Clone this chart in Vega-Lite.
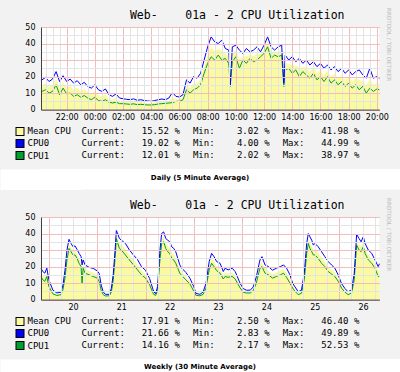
{
  "$schema": "https://vega.github.io/schema/vega-lite/v6.json",
  "background": "#F2F2F2",
  "padding": {"left": 0, "top": 0, "right": 0, "bottom": 0},
  "spacing": 0,
  "config": {"view": {"stroke": null}, "font": "DejaVu Sans"},
  "datasets": {
    "d": [
      {"t":20.18,"a":18.5,"b":11.5,"m":15},
      {"t":20.25,"a":18,"b":11,"m":14.5},
      {"t":20.5,"a":19.5,"b":12,"m":15.75},
      {"t":20.75,"a":17,"b":10,"m":13.5},
      {"t":21,"a":18.5,"b":11,"m":14.75},
      {"t":21.25,"a":23,"b":15,"m":19},
      {"t":21.5,"a":17,"b":9,"m":13},
      {"t":21.75,"a":20.5,"b":13,"m":16.75},
      {"t":22,"a":17,"b":9.5,"m":13.25},
      {"t":22.25,"a":18.5,"b":10,"m":14.25},
      {"t":22.5,"a":16,"b":8,"m":12},
      {"t":22.75,"a":17.5,"b":9,"m":13.25},
      {"t":23,"a":15,"b":7.5,"m":11.25},
      {"t":23.25,"a":16.5,"b":8.5,"m":12.5},
      {"t":23.5,"a":14,"b":7,"m":10.5},
      {"t":23.75,"a":13,"b":6,"m":9.5},
      {"t":24,"a":15,"b":7.5,"m":11.25},
      {"t":24.25,"a":12,"b":5.5,"m":8.75},
      {"t":24.5,"a":11,"b":5,"m":8},
      {"t":24.75,"a":12.5,"b":6,"m":9.25},
      {"t":25,"a":9,"b":4.5,"m":6.75},
      {"t":25.25,"a":8,"b":4,"m":6},
      {"t":25.5,"a":9.5,"b":4.5,"m":7},
      {"t":25.75,"a":7,"b":3.6,"m":5.3},
      {"t":26,"a":6.6,"b":3.6,"m":5.1},
      {"t":26.25,"a":6.2,"b":3.4,"m":4.8},
      {"t":26.5,"a":6,"b":3.2,"m":4.6},
      {"t":26.75,"a":6.5,"b":3.5,"m":5},
      {"t":27,"a":5.6,"b":3,"m":4.3},
      {"t":27.25,"a":6,"b":3.2,"m":4.6},
      {"t":27.5,"a":5.5,"b":3,"m":4.25},
      {"t":27.75,"a":5.2,"b":2.8,"m":4},
      {"t":28,"a":5,"b":2.8,"m":3.9},
      {"t":28.25,"a":5.5,"b":3,"m":4.25},
      {"t":28.5,"a":6,"b":3.4,"m":4.7},
      {"t":28.75,"a":6.4,"b":3.6,"m":5},
      {"t":29,"a":6,"b":3.8,"m":4.9},
      {"t":29.25,"a":7,"b":4,"m":5.5},
      {"t":29.5,"a":10.4,"b":4.2,"m":7.3},
      {"t":29.75,"a":8,"b":5,"m":6.5},
      {"t":30,"a":7.6,"b":5,"m":6.3},
      {"t":30.25,"a":9,"b":6,"m":7.5},
      {"t":30.5,"a":18,"b":12,"m":15},
      {"t":30.75,"a":16,"b":10,"m":13},
      {"t":31,"a":20,"b":12,"m":16},
      {"t":31.25,"a":19,"b":13,"m":16},
      {"t":31.5,"a":22,"b":15,"m":18.5},
      {"t":31.75,"a":30,"b":22,"m":26},
      {"t":32,"a":38,"b":28,"m":33},
      {"t":32.25,"a":44,"b":32,"m":38},
      {"t":32.5,"a":41,"b":30,"m":35.5},
      {"t":32.75,"a":40,"b":33,"m":36.5},
      {"t":33,"a":42,"b":30,"m":36},
      {"t":33.25,"a":37,"b":31,"m":34},
      {"t":33.5,"a":36,"b":28,"m":32},
      {"t":33.6,"a":15,"b":14,"m":14.5},
      {"t":33.75,"a":38,"b":29,"m":33.5},
      {"t":34,"a":39,"b":32,"m":35.5},
      {"t":34.25,"a":36,"b":25,"m":30.5},
      {"t":34.5,"a":34,"b":30,"m":32},
      {"t":34.75,"a":37,"b":28,"m":32.5},
      {"t":35,"a":35,"b":31,"m":33},
      {"t":35.25,"a":36,"b":29,"m":32.5},
      {"t":35.5,"a":38,"b":30,"m":34},
      {"t":35.75,"a":35,"b":32,"m":33.5},
      {"t":36,"a":39,"b":34,"m":36.5},
      {"t":36.25,"a":44,"b":38,"m":41},
      {"t":36.5,"a":38,"b":31,"m":34.5},
      {"t":36.75,"a":36,"b":33,"m":34.5},
      {"t":37,"a":38,"b":32,"m":35},
      {"t":37.25,"a":39,"b":33,"m":36},
      {"t":37.4,"a":16,"b":14,"m":15},
      {"t":37.5,"a":33,"b":24,"m":28.5},
      {"t":37.75,"a":30,"b":25,"m":27.5},
      {"t":38,"a":32,"b":22,"m":27},
      {"t":38.25,"a":29,"b":24,"m":26.5},
      {"t":38.5,"a":31,"b":20,"m":25.5},
      {"t":38.75,"a":28,"b":23,"m":25.5},
      {"t":39,"a":30,"b":21,"m":25.5},
      {"t":39.25,"a":27,"b":19,"m":23},
      {"t":39.5,"a":29,"b":22,"m":25.5},
      {"t":39.75,"a":26,"b":18,"m":22},
      {"t":40,"a":28,"b":20,"m":24},
      {"t":40.25,"a":25,"b":17,"m":21},
      {"t":40.5,"a":27,"b":20,"m":23.5},
      {"t":40.75,"a":24,"b":16,"m":20},
      {"t":41,"a":26,"b":18,"m":22},
      {"t":41.25,"a":23,"b":15,"m":19},
      {"t":41.5,"a":25,"b":17,"m":21},
      {"t":41.75,"a":22,"b":14,"m":18},
      {"t":42,"a":24,"b":16,"m":20},
      {"t":42.25,"a":21,"b":13,"m":17},
      {"t":42.5,"a":23,"b":15,"m":19},
      {"t":42.75,"a":24,"b":12,"m":18},
      {"t":43,"a":21,"b":14,"m":17.5},
      {"t":43.25,"a":19,"b":10,"m":14.5},
      {"t":43.5,"a":25,"b":13,"m":19},
      {"t":43.75,"a":19,"b":11,"m":15},
      {"t":44,"a":20,"b":12.5,"m":16.25},
      {"t":44.18,"a":19,"b":12,"m":15.5}
    ],
    "w": [
      {"h":20.1,"a":18.9,"b":13.8,"m":16.3},
      {"h":21,"a":17,"b":12,"m":14.5},
      {"h":22,"a":16,"b":11,"m":13.5},
      {"h":23,"a":19,"b":14,"m":16.5},
      {"h":24,"a":12,"b":8,"m":10},
      {"h":26,"a":5.7,"b":3.5,"m":4.6},
      {"h":28,"a":4,"b":2.5,"m":3.2},
      {"h":30,"a":4.5,"b":3,"m":3.7},
      {"h":31,"a":8.7,"b":6,"m":7.3},
      {"h":32,"a":17.8,"b":13,"m":15.4},
      {"h":33,"a":30,"b":24,"m":27},
      {"h":34,"a":36.5,"b":31,"m":33.7},
      {"h":35,"a":34,"b":29,"m":31.5},
      {"h":36,"a":32,"b":27,"m":29.5},
      {"h":37,"a":32.5,"b":27,"m":29.7},
      {"h":38,"a":30.4,"b":25,"m":27.7},
      {"h":39,"a":28,"b":22,"m":25},
      {"h":40,"a":26,"b":20,"m":23},
      {"h":40.5,"a":21,"b":9.7,"m":15.3},
      {"h":41,"a":24,"b":19,"m":21.5},
      {"h":42,"a":21,"b":16,"m":18.5},
      {"h":44,"a":19.5,"b":15,"m":17.2},
      {"h":46,"a":18.9,"b":14,"m":16.4},
      {"h":48,"a":17.4,"b":13,"m":15.2},
      {"h":49,"a":15.8,"b":11,"m":13.4},
      {"h":50,"a":8.7,"b":5.5,"m":7.1},
      {"h":51,"a":4.7,"b":3,"m":3.8},
      {"h":52,"a":3.2,"b":2.2,"m":2.7},
      {"h":54,"a":3.2,"b":2.3,"m":2.7},
      {"h":55,"a":6.7,"b":4.5,"m":5.6},
      {"h":56,"a":15.8,"b":12,"m":13.9},
      {"h":57,"a":32,"b":27,"m":29.5},
      {"h":57.5,"a":41.8,"b":37,"m":39.4},
      {"h":58,"a":40.6,"b":35,"m":37.8},
      {"h":59,"a":37,"b":31,"m":34},
      {"h":60,"a":36,"b":30,"m":33},
      {"h":62,"a":34,"b":27,"m":30.5},
      {"h":64,"a":30,"b":24,"m":27},
      {"h":66,"a":27,"b":21,"m":24},
      {"h":68,"a":24.3,"b":18,"m":21.1},
      {"h":70,"a":19.9,"b":15,"m":17.4},
      {"h":72,"a":17.8,"b":13,"m":15.4},
      {"h":74,"a":12.8,"b":9,"m":10.9},
      {"h":76,"a":5,"b":3.2,"m":4.1},
      {"h":77,"a":3.5,"b":2.5,"m":3},
      {"h":78,"a":8,"b":5.5,"m":6.7},
      {"h":79,"a":28,"b":22,"m":25},
      {"h":80,"a":40,"b":34,"m":37},
      {"h":81,"a":41,"b":35,"m":38},
      {"h":82,"a":37,"b":31,"m":34},
      {"h":83,"a":36,"b":29,"m":32.5},
      {"h":84,"a":35,"b":28,"m":31.5},
      {"h":85,"a":32,"b":25,"m":28.5},
      {"h":86,"a":31,"b":24,"m":27.5},
      {"h":87,"a":29,"b":22,"m":25.5},
      {"h":88,"a":25,"b":19,"m":22},
      {"h":89,"a":21,"b":16,"m":18.5},
      {"h":90,"a":19,"b":14.5,"m":16.7},
      {"h":92,"a":16.5,"b":12,"m":14.2},
      {"h":94,"a":13,"b":9.5,"m":11.2},
      {"h":96,"a":7.7,"b":5,"m":6.3},
      {"h":97,"a":3.8,"b":2.6,"m":3.2},
      {"h":99,"a":3.2,"b":2.3,"m":2.7},
      {"h":100.6,"a":4.7,"b":3.2,"m":4},
      {"h":102,"a":9.7,"b":7,"m":8.3},
      {"h":103.6,"a":23,"b":18,"m":20.5},
      {"h":104.8,"a":28,"b":22,"m":25},
      {"h":106,"a":26,"b":20,"m":23},
      {"h":107.3,"a":23,"b":17.5,"m":20.2},
      {"h":109,"a":22,"b":16,"m":19},
      {"h":110.6,"a":17,"b":12.5,"m":14.7},
      {"h":111.5,"a":19,"b":14,"m":16.5},
      {"h":113,"a":18,"b":13.5,"m":15.7},
      {"h":115,"a":19,"b":14,"m":16.5},
      {"h":116.5,"a":17,"b":12.5,"m":14.7},
      {"h":117.6,"a":13.8,"b":10,"m":11.9},
      {"h":119,"a":9.7,"b":7,"m":8.3},
      {"h":120.5,"a":6.7,"b":4.5,"m":5.6},
      {"h":122,"a":5.7,"b":4,"m":4.8},
      {"h":124,"a":5.7,"b":4,"m":4.8},
      {"h":125.5,"a":7.7,"b":5.5,"m":6.6},
      {"h":127,"a":13.8,"b":10,"m":11.9},
      {"h":128.8,"a":24,"b":19,"m":21.5},
      {"h":129.8,"a":26,"b":20,"m":23},
      {"h":131.3,"a":21,"b":16,"m":18.5},
      {"h":133,"a":20,"b":15,"m":17.5},
      {"h":135,"a":17.8,"b":13,"m":15.4},
      {"h":137,"a":19,"b":14,"m":16.5},
      {"h":139,"a":20,"b":15,"m":17.5},
      {"h":140.5,"a":21,"b":16,"m":18.5},
      {"h":142,"a":19,"b":13.5,"m":16.2},
      {"h":143.7,"a":15,"b":10,"m":12.5},
      {"h":145,"a":10,"b":7,"m":8.5},
      {"h":146.2,"a":7.7,"b":5,"m":6.3},
      {"h":147.8,"a":4.7,"b":3,"m":3.8},
      {"h":149.4,"a":5.7,"b":3.8,"m":4.7},
      {"h":150.8,"a":15.8,"b":12,"m":13.9},
      {"h":152,"a":34,"b":28,"m":31},
      {"h":152.8,"a":40,"b":34,"m":37},
      {"h":153.6,"a":38,"b":31,"m":34.5},
      {"h":154.5,"a":36,"b":29,"m":32.5},
      {"h":155.3,"a":33,"b":27,"m":30},
      {"h":156.1,"a":34,"b":27,"m":30.5},
      {"h":157.7,"a":32,"b":25,"m":28.5},
      {"h":159.4,"a":29,"b":22,"m":25.5},
      {"h":161,"a":26,"b":20,"m":23},
      {"h":162.7,"a":23,"b":17,"m":20},
      {"h":164.3,"a":21,"b":15.5,"m":18.2},
      {"h":166,"a":19,"b":14,"m":16.5},
      {"h":167.7,"a":14.8,"b":11,"m":12.9},
      {"h":169.3,"a":9.7,"b":7,"m":8.3},
      {"h":171,"a":6.7,"b":4.5,"m":5.6},
      {"h":172.6,"a":4.7,"b":3,"m":3.8},
      {"h":174.3,"a":6,"b":4,"m":5},
      {"h":175.6,"a":15.8,"b":12,"m":13.9},
      {"h":176.8,"a":39.5,"b":33,"m":36.2},
      {"h":178,"a":37,"b":30,"m":33.5},
      {"h":179,"a":35,"b":29,"m":32},
      {"h":180.1,"a":38,"b":32,"m":35},
      {"h":181,"a":34,"b":28,"m":31},
      {"h":182.6,"a":30,"b":24,"m":27},
      {"h":184.3,"a":28,"b":22,"m":25},
      {"h":185.9,"a":24,"b":19,"m":21.5},
      {"h":187.5,"a":20,"b":14,"m":17},
      {"h":188.1,"a":21.7,"b":14.2,"m":17.9}
    ],
    "ld": [
      {"s":"Mean CPU","k":"Current:","v":15.52},
      {"s":"Mean CPU","k":"Min:","v":3.02},
      {"s":"Mean CPU","k":"Max:","v":41.98},
      {"s":"CPU0","k":"Current:","v":19.02},
      {"s":"CPU0","k":"Min:","v":4.00},
      {"s":"CPU0","k":"Max:","v":44.99},
      {"s":"CPU1","k":"Current:","v":12.01},
      {"s":"CPU1","k":"Min:","v":2.02},
      {"s":"CPU1","k":"Max:","v":38.97}
    ],
    "lw": [
      {"s":"Mean CPU","k":"Current:","v":17.91},
      {"s":"Mean CPU","k":"Min:","v":2.50},
      {"s":"Mean CPU","k":"Max:","v":46.40},
      {"s":"CPU0","k":"Current:","v":21.66},
      {"s":"CPU0","k":"Min:","v":2.83},
      {"s":"CPU0","k":"Max:","v":49.89},
      {"s":"CPU1","k":"Current:","v":14.16},
      {"s":"CPU1","k":"Min:","v":2.17},
      {"s":"CPU1","k":"Max:","v":52.53}
    ]
  },
  "vconcat": [
    {
      "width": 338.4, "height": 82.6,
      "view": {"fill": "#FFFFFF", "stroke": null},
      "title": {"text": ["\u00a0", "Web-\u00a0\u00a0\u00a0\u00a001a - 2 CPU Utilization"], "font": "DejaVu Sans Mono", "fontSize": 11.5, "fontWeight": "normal", "color": "#000000", "anchor": "middle", "frame": "group", "dx": 27, "offset": -14, "lineHeight": 9.5},
      "data": {"name": "d"},
      "encoding": {
        "x": {"field": "t", "type": "quantitative", "scale": {"domain": [20.18, 44.18], "nice": false, "zero": false},
          "axis": {"values": [20.5,21,21.5,22,22.5,23,23.5,24,24.5,25,25.5,26,26.5,27,27.5,28,28.5,29,29.5,30,30.5,31,31.5,32,32.5,33,33.5,34,34.5,35,35.5,36,36.5,37,37.5,38,38.5,39,39.5,40,40.5,41,41.5,42,42.5,43,43.5,44],
            "labelExpr": "datum.value % 2 === 0 ? ((datum.value % 24 < 10 ? '0' : '') + (datum.value % 24) + ':00') : ''",
            "title": null, "grid": true, "gridColor": {"condition": {"test": "datum.value % 2 === 0", "value": "#F2BCBC"}, "value": "#E4E4E4"},
            "ticks": false, "domainColor": "#404040", "labelFont": "DejaVu Sans", "labelFontSize": 8, "labelColor": "#000000", "labelPadding": 4,
            "labelOverlap": false, "labelFlush": false, "labelBound": false, "minExtent": 12, "maxExtent": 12, "zindex": 1}}
      },
      "layer": [
        {"mark": {"type": "area", "color": "#FAFAA0"},
         "encoding": {"y": {"field": "m", "type": "quantitative", "scale": {"domain": [0, 50], "nice": false},
           "axis": {"orient": "left", "values": [0,5,10,15,20,25,30,35,40,45,50], "labelExpr": "datum.value % 10 === 0 ? datum.label : ''",
             "title": null, "grid": true, "gridColor": {"condition": {"test": "datum.value % 10 === 0", "value": "#F2BCBC"}, "value": "#E4E4E4"},
             "ticks": false, "domainColor": "#404040", "labelFont": "DejaVu Sans", "labelFontSize": 8, "labelColor": "#000000", "labelPadding": 6,
             "labelOverlap": false, "labelFlush": false, "labelBound": false, "minExtent": 41, "maxExtent": 41, "zindex": 1}}}},
        {"mark": {"type": "line", "color": "#00A030", "strokeWidth": 1},
         "encoding": {"y": {"field": "b", "type": "quantitative", "scale": {"domain": [0, 50], "nice": false},
           "axis": {"orient": "right", "labels": false, "ticks": false, "domain": false, "grid": false, "title": "RRDTOOL / TOBI OETIKER",
             "titleFont": "DejaVu Sans", "titleFontSize": 5.7, "titleFontWeight": "normal", "titleColor": "#BDBDBD", "titleAngle": 90,
             "titleAlign": "left", "titleBaseline": "middle", "titleX": 9, "titleY": -19.5}}}},
        {"mark": {"type": "line", "color": "#0000FF", "strokeWidth": 1},
         "encoding": {"y": {"field": "a", "type": "quantitative", "scale": {"domain": [0, 50], "nice": false}, "axis": null}}}
      ],
      "resolve": {"axis": {"y": "independent"}}
    },
    {
      "width": 359, "height": 46.9,
      "data": {"name": "ld"},
      "encoding": {
        "y": {"field": "s", "type": "nominal", "scale": {"type": "point", "domain": ["Mean CPU", "CPU0", "CPU1"], "padding": 0.891, "align": 0.389}},
        "x": {"field": "k", "type": "nominal", "scale": {"type": "point", "domain": ["Current:", "Min:", "Max:"], "padding": 1.017, "align": 0.7735}, "axis": null}
      },
      "layer": [
        {"mark": {"type": "text", "align": "right", "baseline": "middle", "dx": -55, "font": "DejaVu Sans Mono", "fontSize": 9, "color": "#000000"},
         "encoding": {"text": {"field": "k"},
           "y": {"field": "s", "type": "nominal", "axis": {"orient": "left", "offset": 17, "ticks": true, "tickSize": 9, "tickWidth": 9, "tickColor": "#000000", "labels": false, "domain": false, "grid": false, "title": null}}}},
        {"mark": {"type": "text", "align": "right", "baseline": "middle", "dx": -11, "font": "DejaVu Sans Mono", "fontSize": 9, "color": "#000000"},
         "encoding": {"text": {"field": "v", "type": "quantitative", "format": ".2f"},
           "y": {"field": "s", "type": "nominal", "axis": {"orient": "left", "offset": 18, "ticks": true, "tickSize": 7, "tickWidth": 7,
             "tickColor": {"condition": [{"test": "datum.value === 'Mean CPU'", "value": "#FAFAA0"}, {"test": "datum.value === 'CPU0'", "value": "#0000FF"}], "value": "#00A030"},
             "labels": true, "labelAlign": "left", "labelBaseline": "middle", "labelPadding": -11, "labelFont": "DejaVu Sans Mono", "labelFontSize": 9, "labelColor": "#000000",
             "domain": false, "grid": false, "title": null}}}},
        {"mark": {"type": "text", "align": "right", "baseline": "middle", "font": "DejaVu Sans Mono", "fontSize": 9, "color": "#000000"},
         "encoding": {"text": {"value": "%"}, "y": {"field": "s", "type": "nominal", "axis": null}}}
      ],
      "resolve": {"axis": {"y": "independent"}}
    },
    {
      "width": 359, "height": 20.5,
      "view": {"fill": "#FFFFFF", "stroke": null},
      "data": {"values": [{"c": "Daily (5 Minute Average)"}]},
      "mark": {"type": "text", "font": "DejaVu Sans", "fontWeight": "bold", "fontSize": 7, "color": "#000000", "dx": -20.5, "dy": -1.5},
      "encoding": {"text": {"field": "c"},
        "y": {"field": "c", "type": "nominal", "axis": {"title": null, "labels": false, "ticks": false, "grid": false, "domain": true, "domainColor": "#FFFFFF", "domainWidth": 82, "domainCap": "butt"}}}
    },
    {
      "width": 338.4, "height": 82.6,
      "view": {"fill": "#FFFFFF", "stroke": null},
      "title": {"text": ["\u00a0", "Web-\u00a0\u00a0\u00a0\u00a001a - 2 CPU Utilization"], "font": "DejaVu Sans Mono", "fontSize": 11.5, "fontWeight": "normal", "color": "#000000", "anchor": "middle", "frame": "group", "dx": 27, "offset": -14, "lineHeight": 9.5},
      "data": {"name": "w"},
      "encoding": {
        "x": {"field": "h", "type": "quantitative", "scale": {"domain": [20.1, 188.1], "nice": false, "zero": false},
          "axis": {"values": [24,30,36,42,48,54,60,66,72,78,84,90,96,102,108,114,120,126,132,138,144,150,156,162,168,174,180,186],
            "labelExpr": "datum.value % 24 === 12 ? '' + (floor(datum.value / 24) + 19) : ''",
            "title": null, "grid": true, "gridColor": {"condition": {"test": "datum.value % 24 === 0", "value": "#F2BCBC"}, "value": "#E4E4E4"},
            "ticks": false, "domainColor": "#404040", "labelFont": "DejaVu Sans", "labelFontSize": 8, "labelColor": "#000000", "labelPadding": 4,
            "labelOverlap": false, "labelFlush": false, "labelBound": false, "minExtent": 12, "maxExtent": 12, "zindex": 1}}
      },
      "layer": [
        {"mark": {"type": "area", "color": "#FAFAA0"},
         "encoding": {"y": {"field": "m", "type": "quantitative", "scale": {"domain": [0, 50], "nice": false},
           "axis": {"orient": "left", "values": [0,5,10,15,20,25,30,35,40,45,50], "labelExpr": "datum.value % 10 === 0 ? datum.label : ''",
             "title": null, "grid": true, "gridColor": {"condition": {"test": "datum.value % 10 === 0", "value": "#F2BCBC"}, "value": "#E4E4E4"},
             "ticks": false, "domainColor": "#404040", "labelFont": "DejaVu Sans", "labelFontSize": 8, "labelColor": "#000000", "labelPadding": 6,
             "labelOverlap": false, "labelFlush": false, "labelBound": false, "minExtent": 41, "maxExtent": 41, "zindex": 1}}}},
        {"mark": {"type": "line", "color": "#00A030", "strokeWidth": 1},
         "encoding": {"y": {"field": "b", "type": "quantitative", "scale": {"domain": [0, 50], "nice": false},
           "axis": {"orient": "right", "labels": false, "ticks": false, "domain": false, "grid": false, "title": "RRDTOOL / TOBI OETIKER",
             "titleFont": "DejaVu Sans", "titleFontSize": 5.7, "titleFontWeight": "normal", "titleColor": "#BDBDBD", "titleAngle": 90,
             "titleAlign": "left", "titleBaseline": "middle", "titleX": 9, "titleY": -19.5}}}},
        {"mark": {"type": "line", "color": "#0000FF", "strokeWidth": 1},
         "encoding": {"y": {"field": "a", "type": "quantitative", "scale": {"domain": [0, 50], "nice": false}, "axis": null}}}
      ],
      "resolve": {"axis": {"y": "independent"}}
    },
    {
      "width": 359, "height": 46.9,
      "data": {"name": "lw"},
      "encoding": {
        "y": {"field": "s", "type": "nominal", "scale": {"type": "point", "domain": ["Mean CPU", "CPU0", "CPU1"], "padding": 0.891, "align": 0.389}},
        "x": {"field": "k", "type": "nominal", "scale": {"type": "point", "domain": ["Current:", "Min:", "Max:"], "padding": 1.017, "align": 0.7735}, "axis": null}
      },
      "layer": [
        {"mark": {"type": "text", "align": "right", "baseline": "middle", "dx": -55, "font": "DejaVu Sans Mono", "fontSize": 9, "color": "#000000"},
         "encoding": {"text": {"field": "k"},
           "y": {"field": "s", "type": "nominal", "axis": {"orient": "left", "offset": 17, "ticks": true, "tickSize": 9, "tickWidth": 9, "tickColor": "#000000", "labels": false, "domain": false, "grid": false, "title": null}}}},
        {"mark": {"type": "text", "align": "right", "baseline": "middle", "dx": -11, "font": "DejaVu Sans Mono", "fontSize": 9, "color": "#000000"},
         "encoding": {"text": {"field": "v", "type": "quantitative", "format": ".2f"},
           "y": {"field": "s", "type": "nominal", "axis": {"orient": "left", "offset": 18, "ticks": true, "tickSize": 7, "tickWidth": 7,
             "tickColor": {"condition": [{"test": "datum.value === 'Mean CPU'", "value": "#FAFAA0"}, {"test": "datum.value === 'CPU0'", "value": "#0000FF"}], "value": "#00A030"},
             "labels": true, "labelAlign": "left", "labelBaseline": "middle", "labelPadding": -11, "labelFont": "DejaVu Sans Mono", "labelFontSize": 9, "labelColor": "#000000",
             "domain": false, "grid": false, "title": null}}}},
        {"mark": {"type": "text", "align": "right", "baseline": "middle", "font": "DejaVu Sans Mono", "fontSize": 9, "color": "#000000"},
         "encoding": {"text": {"value": "%"}, "y": {"field": "s", "type": "nominal", "axis": null}}}
      ],
      "resolve": {"axis": {"y": "independent"}}
    },
    {
      "width": 359, "height": 15,
      "view": {"fill": "#FFFFFF", "stroke": null},
      "data": {"values": [{"c": "Weekly (30 Minute Average)"}]},
      "mark": {"type": "text", "font": "DejaVu Sans", "fontWeight": "bold", "fontSize": 7, "color": "#000000", "dx": -20.5, "dy": 0.5},
      "encoding": {"text": {"field": "c"},
        "y": {"field": "c", "type": "nominal", "axis": {"title": null, "labels": false, "ticks": false, "grid": false, "domain": true, "domainColor": "#FFFFFF", "domainWidth": 82, "domainCap": "butt"}}}
    }
  ]
}
